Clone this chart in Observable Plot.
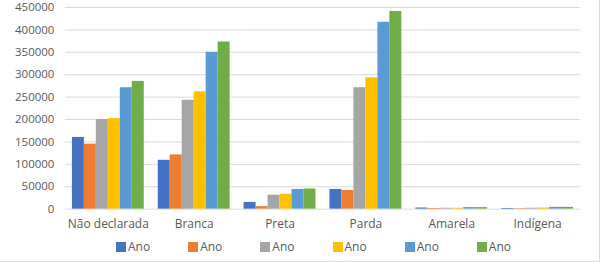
<!DOCTYPE html>
<html>
<head>
<meta charset="utf-8">
<script src="https://cdn.jsdelivr.net/npm/d3@7"></script>
<script src="https://cdn.jsdelivr.net/npm/@observablehq/plot@0.6"></script>
<style>
  html, body { margin: 0; padding: 0; background: #fff; }
  #wrap { position: relative; width: 600px; height: 262px; box-sizing: border-box; border-right: 1px solid #d9d9d9; border-bottom: 1px solid #d9d9d9; font-family: "Open Sans", sans-serif; color: #595959; overflow: hidden; }
  #chart { position: absolute; left: 0; top: 0; }
  #legend { position: absolute; left: 116px; top: 240px; display: flex; gap: 38px; font-size: 12px; line-height: 14px; }
  .item { display: flex; align-items: center; gap: 2px; }
  .sw { width: 10px; height: 10px; display: inline-block; }
</style>
</head>
<body>
<div id="wrap">
  <div id="chart"></div>
  <div id="legend"></div>
</div>
<script>
const categories = ["Não declarada", "Branca", "Preta", "Parda", "Amarela", "Indígena"];
const seriesNames = ["Ano", "Ano", "Ano", "Ano", "Ano", "Ano"];
const seriesColors = ["#4472C4", "#ED7D31", "#A5A5A5", "#FFC000", "#5B9BD5", "#70AD47"];
const yTicks = [0, 50000, 100000, 150000, 200000, 250000, 300000, 350000, 400000, 450000];

const series1 = [160000, 109000, 15000, 44000, 2500, 1500];
const series2 = [145000, 121000, 5500, 41500, 1500, 1000];
const series3 = [200000, 243000, 31000, 271000, 2000, 2000];
const series4 = [202000, 262000, 33000, 293000, 2000, 2500];
const series5 = [271000, 350000, 44000, 417000, 3500, 4000];
const series6 = [285000, 373000, 45000, 441000, 3500, 4000];

const allSeries = [series1, series2, series3, series4, series5, series6];
const keys = allSeries.map((_, i) => "s" + (i + 1));
const data = [];
categories.forEach((c, ci) => {
  allSeries.forEach((s, si) => {
    data.push({category: c, key: keys[si], value: s[ci]});
  });
});

const plot = Plot.plot({
  width: 600,
  height: 238,
  marginLeft: 63,
  marginRight: 17,
  marginTop: 7,
  marginBottom: 29,
  style: {fontFamily: "'Open Sans', sans-serif", color: "#595959", background: "transparent", overflow: "visible"},
  fx: {domain: categories, padding: 0, label: null},
  x: {domain: keys, paddingInner: 0.04, paddingOuter: 0.55, axis: null},
  y: {domain: [0, 450000], ticks: yTicks, label: null},
  color: {domain: keys, range: seriesColors},
  marks: [
    Plot.ruleY(yTicks, {stroke: "#d9d9d9", strokeWidth: 1}),
    Plot.barY(data, {fx: "category", x: "key", y: "value", fill: "key"}),
    Plot.axisY(yTicks, {tickSize: 0, tickPadding: 11, tickFormat: d3.format("d"), fontSize: 11.5, label: null}),
    Plot.axisFx({anchor: "bottom", tickSize: 0, tickPadding: 10, fontSize: 12, label: null})
  ]
});
document.getElementById("chart").appendChild(plot);

const legend = document.getElementById("legend");
seriesNames.forEach((n, i) => {
  const it = document.createElement("div");
  it.className = "item";
  const sw = document.createElement("span");
  sw.className = "sw";
  sw.style.background = seriesColors[i];
  const t = document.createElement("span");
  t.textContent = n;
  it.appendChild(sw);
  it.appendChild(t);
  legend.appendChild(it);
});
</script>
</body>
</html>
